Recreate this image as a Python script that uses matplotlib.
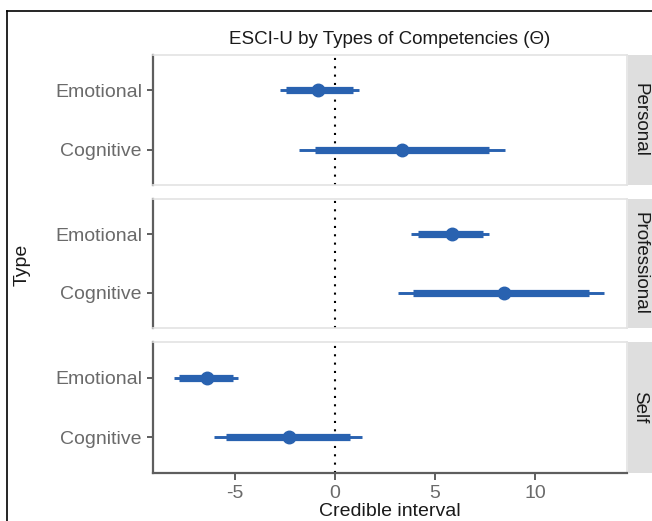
import matplotlib
matplotlib.use("Agg")
import matplotlib.pyplot as plt
from matplotlib.lines import Line2D
from matplotlib.patches import Rectangle

# competency types per facet, bottom to top
types = ["Cognitive", "Emotional"]
facets = ["Personal", "Professional", "Self"]

# point estimate, inner (thick) and outer (thin) credible intervals
estimate = {
    "Personal": [3.35, -0.84],
    "Professional": [8.43, 5.83],
    "Self": [-2.29, -6.42],
}
inner_lo = {
    "Personal": [-1.0, -2.47],
    "Professional": [3.92, 4.15],
    "Self": [-5.45, -7.78],
}
inner_hi = {
    "Personal": [7.69, 0.88],
    "Professional": [12.7, 7.42],
    "Self": [0.73, -5.09],
}
outer_lo = {
    "Personal": [-1.78, -2.75],
    "Professional": [3.17, 3.82],
    "Self": [-6.04, -8.07],
}
outer_hi = {
    "Personal": [8.49, 1.22],
    "Professional": [13.47, 7.7],
    "Self": [1.36, -4.84],
}
xticks = [-5, 0, 5, 10]

W, H = 652, 521
BLUE = "#2962b0"
AXC = "#5e5e5e"
TXT = "#6a6a6a"

plt.rcParams["font.family"] = ["Liberation Sans", "DejaVu Sans"]


def box(x0, y0, x1, y1):
    # pixel box (from top-left) -> figure fraction rect
    return [x0 / W, 1 - y1 / H, (x1 - x0) / W, (y1 - y0) / H]


fig = plt.figure(figsize=(W / 100, H / 100), dpi=100)

panels = [(55, 185), (199, 328), (342, 473)]
x_left, x_right = 153, 627

for i, (facet, (top, bot)) in enumerate(zip(facets, panels)):
    ax = fig.add_axes(box(x_left, top, x_right, bot))
    pos = list(range(1, len(types) + 1))
    ax.hlines(pos, outer_lo[facet], outer_hi[facet], color=BLUE, lw=2.1, zorder=3)
    ax.hlines(pos, inner_lo[facet], inner_hi[facet], color=BLUE, lw=5.2, zorder=4)
    ax.plot(estimate[facet], pos, "o", color=BLUE, ms=9, zorder=5)
    ax.axvline(0, color="black", ls=(0, (1, 3)), lw=1.5, zorder=2)

    ax.set_xlim(-9.1, 14.6)
    ax.set_ylim(0.4, 2.6)
    ax.set_yticks(pos)
    ax.set_yticklabels(types, fontsize=14, color=TXT)
    ax.tick_params(axis="y", length=4, width=1.4, color=AXC, pad=4)

    for side in ["top", "right", "bottom"]:
        ax.spines[side].set_color("#e3e3e3")
        ax.spines[side].set_linewidth(1.2)
    ax.spines["left"].set_color(AXC)
    ax.spines["left"].set_linewidth(1.6)

    if i == len(facets) - 1:
        ax.spines["bottom"].set_color(AXC)
        ax.spines["bottom"].set_linewidth(1.6)
        ax.set_xticks(xticks)
        ax.set_xticklabels([f"{t}" for t in xticks], fontsize=14, color=TXT)
        ax.tick_params(axis="x", length=5, width=1.4, color=AXC, pad=4)
    else:
        ax.set_xticks([])

    # facet strip on the right
    sx0, sx1 = 628, 662
    fig.patches.append(Rectangle((sx0 / W, 1 - bot / H), (sx1 - sx0) / W, (bot - top) / H,
                                 transform=fig.transFigure, facecolor="#dedede",
                                 edgecolor="none", zorder=0))
    fig.text((sx0 + 12) / W, 1 - (top + bot) / 2 / H, facet, rotation=-90,
             ha="center", va="center", fontsize=13.5, color="#1a1a1a")

fig.text(390 / W, 1 - 39.5 / H, "ESCI-U by Types of Competencies (\u0398)",
         ha="center", va="center", fontsize=13.5, color="#1a1a1a")
fig.text(390 / W, 1 - 512 / H, "Credible interval", ha="center", va="center",
         fontsize=14, color="#1a1a1a")
fig.text(22 / W, 1 - 265 / H, "Type", rotation=90, ha="center", va="center",
         fontsize=14, color="#1a1a1a")

# border frame on the left and top
fig.lines.append(Line2D([6.5 / W, 6.5 / W], [0, 1 - 11 / H], transform=fig.transFigure,
                        color="black", lw=1.2))
fig.lines.append(Line2D([6.5 / W, 1], [1 - 11 / H, 1 - 11 / H], transform=fig.transFigure,
                        color="black", lw=1.2))

fig.savefig("out.png", dpi=100)
